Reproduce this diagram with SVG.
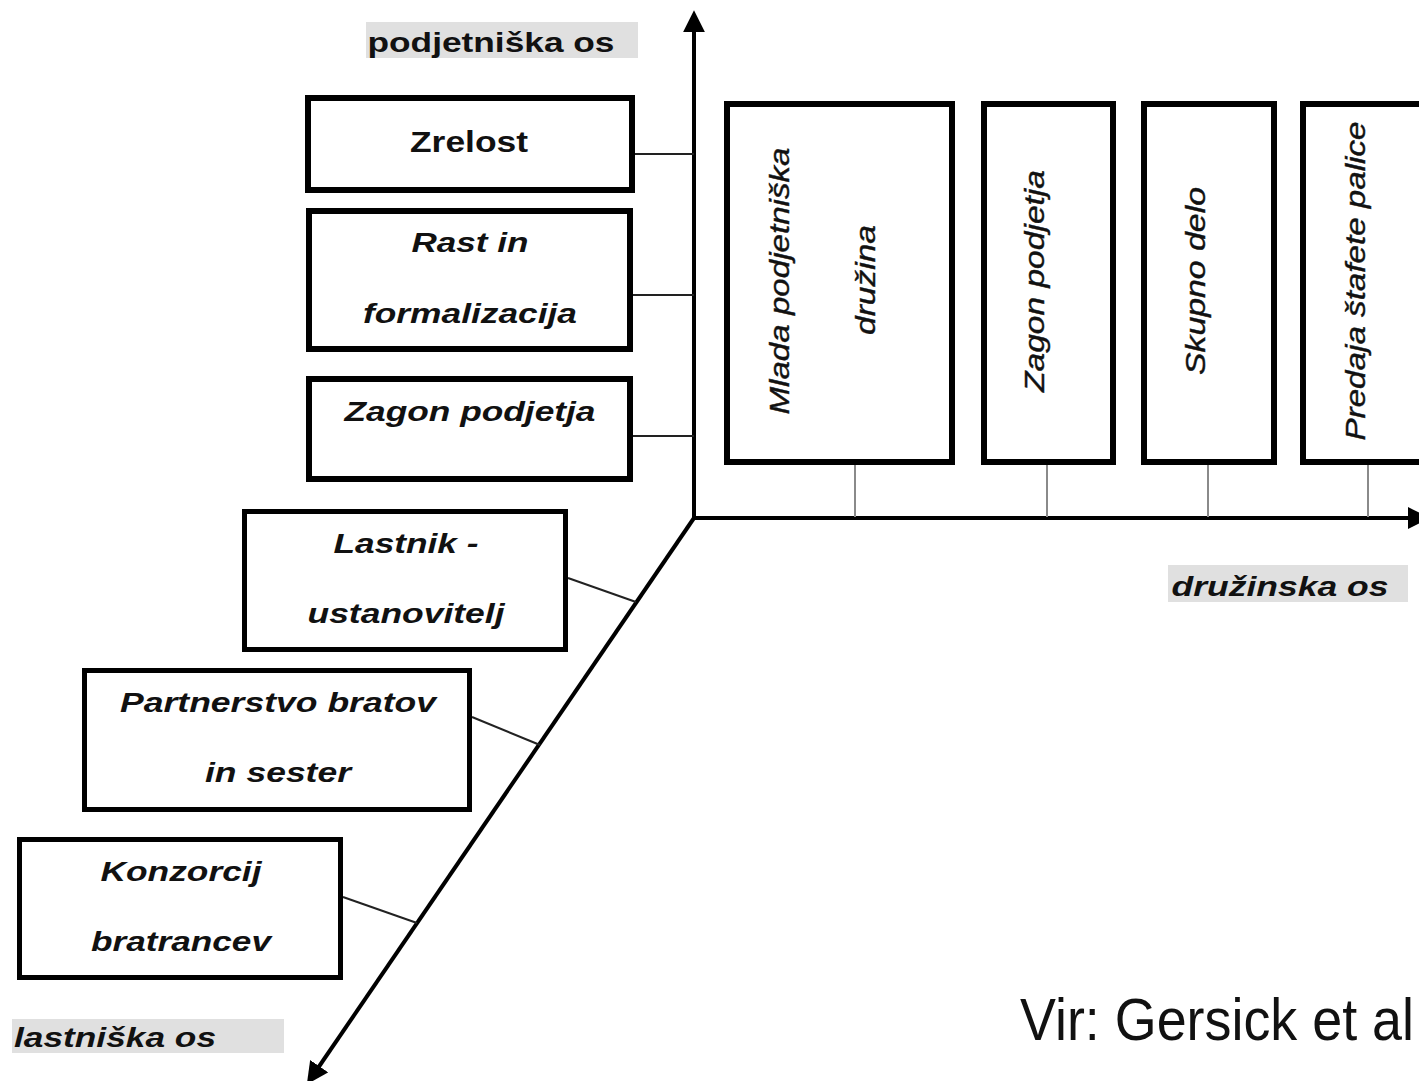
<svg xmlns="http://www.w3.org/2000/svg" width="1419" height="1081" viewBox="0 0 1419 1081">
<style>
.bg{fill:#ffffff}
.box{fill:#ffffff;stroke:#000000;stroke-width:6}
.box2{fill:#ffffff;stroke:#000000;stroke-width:5}
.axis{stroke:#000000;stroke-width:4;fill:none}
.link{stroke:#222222;stroke-width:2;fill:none}
.tick{stroke:#8a8a8a;stroke-width:2;fill:none}
.lblbg{fill:#e0e0e0}
.t{font-family:"Liberation Sans",Arial,sans-serif;font-weight:bold;font-style:italic;font-size:27px;fill:#111111;text-anchor:middle}
.up{font-style:normal}
.v{font-family:"Liberation Sans",Arial,sans-serif;font-style:italic;font-size:28px;fill:#111111;text-anchor:middle;stroke:#111111;stroke-width:0.4}
.src{font-family:"Liberation Sans",Arial,sans-serif;font-size:60px;fill:#111111}
</style>
<defs>
<marker id="arr" markerUnits="userSpaceOnUse" markerWidth="22" markerHeight="22" viewBox="0 0 20 20" refX="2" refY="10" orient="auto">
<path d="M0,0 L20,10 L0,20 z" fill="#000000"/>
</marker>
</defs>
<rect class="bg" x="0" y="0" width="1419" height="1081"/>

<g id="connectors">
<line class="axis" x1="694" y1="520" x2="694" y2="30" marker-end="url(#arr)"/>
<line class="axis" x1="692" y1="518" x2="1410" y2="518" marker-end="url(#arr)"/>
<line class="axis" x1="694" y1="518" x2="318" y2="1068" marker-end="url(#arr)"/>
<line class="link" x1="635" y1="154" x2="694" y2="154"/>
<line class="link" x1="633" y1="295" x2="694" y2="295"/>
<line class="link" x1="633" y1="436" x2="694" y2="436"/>
<line class="link" x1="568" y1="578" x2="636" y2="602"/>
<line class="link" x1="472" y1="717" x2="540" y2="745"/>
<line class="link" x1="343" y1="897" x2="417" y2="923"/>
<line class="tick" x1="855" y1="465" x2="855" y2="517"/>
<line class="tick" x1="1047" y1="465" x2="1047" y2="517"/>
<line class="tick" x1="1208" y1="465" x2="1208" y2="517"/>
<line class="tick" x1="1368" y1="465" x2="1368" y2="517"/>
</g>

<g id="label-podjetniska">
<rect class="lblbg" x="366" y="22" width="272" height="36"/>
<text class="t up" x="491" y="52" textLength="247" lengthAdjust="spacingAndGlyphs">podjetniška os</text>
</g>
<g id="label-druzinska">
<rect class="lblbg" x="1168" y="565" width="240" height="37"/>
<text class="t" x="1280" y="596" textLength="217" lengthAdjust="spacingAndGlyphs">družinska os</text>
</g>
<g id="label-lastniska">
<rect class="lblbg" x="12" y="1019" width="272" height="34"/>
<text class="t" x="115" y="1047" textLength="202" lengthAdjust="spacingAndGlyphs">lastniška os</text>
</g>

<g id="node-zrelost">
<rect class="box" x="308" y="98" width="324" height="92"/>
<text class="t up" x="469" y="152" style="font-size:29px" textLength="118" lengthAdjust="spacingAndGlyphs">Zrelost</text>
</g>
<g id="node-rast">
<rect class="box" x="309" y="211" width="321" height="138"/>
<text class="t" x="470" y="252" textLength="117" lengthAdjust="spacingAndGlyphs">Rast in</text>
<text class="t" x="470" y="323" textLength="214" lengthAdjust="spacingAndGlyphs">formalizacija</text>
</g>
<g id="node-zagon-left">
<rect class="box" x="309" y="379" width="321" height="100"/>
<text class="t" x="470" y="421" textLength="251" lengthAdjust="spacingAndGlyphs">Zagon podjetja</text>
</g>
<g id="node-lastnik">
<rect class="box2" x="244.5" y="511.5" width="321" height="138"/>
<text class="t" x="406" y="553" textLength="145" lengthAdjust="spacingAndGlyphs">Lastnik -</text>
<text class="t" x="406" y="623" textLength="197" lengthAdjust="spacingAndGlyphs">ustanovitelj</text>
</g>
<g id="node-partnerstvo">
<rect class="box2" x="84.5" y="670.5" width="385" height="139"/>
<text class="t" x="278" y="712" textLength="316" lengthAdjust="spacingAndGlyphs">Partnerstvo bratov</text>
<text class="t" x="278" y="782" textLength="146" lengthAdjust="spacingAndGlyphs">in sester</text>
</g>
<g id="node-konzorcij">
<rect class="box2" x="19.5" y="839.5" width="321" height="138"/>
<text class="t" x="181" y="881" textLength="161" lengthAdjust="spacingAndGlyphs">Konzorcij</text>
<text class="t" x="181" y="951" textLength="180" lengthAdjust="spacingAndGlyphs">bratrancev</text>
</g>

<g id="node-mlada">
<rect class="box" x="727" y="104" width="225" height="358"/>
<text class="v" transform="translate(789,281) rotate(-90)" textLength="267" lengthAdjust="spacingAndGlyphs">Mlada podjetniška</text>
<text class="v" transform="translate(875,280) rotate(-90)" textLength="110" lengthAdjust="spacingAndGlyphs">družina</text>
</g>
<g id="node-zagon-right">
<rect class="box" x="984" y="104" width="129" height="358"/>
<text class="v" transform="translate(1044,281) rotate(-90)" textLength="222" lengthAdjust="spacingAndGlyphs">Zagon podjetja</text>
</g>
<g id="node-skupno">
<rect class="box" x="1144" y="104" width="130" height="358"/>
<text class="v" transform="translate(1205,281) rotate(-90)" textLength="188" lengthAdjust="spacingAndGlyphs">Skupno delo</text>
</g>
<g id="node-predaja">
<rect class="box" x="1303" y="104" width="200" height="358"/>
<text class="v" transform="translate(1365,281) rotate(-90)" textLength="319" lengthAdjust="spacingAndGlyphs">Predaja štafete palice</text>
</g>

<g id="source">
<text class="src" x="1020" y="1040" textLength="394" lengthAdjust="spacingAndGlyphs">Vir: Gersick et al</text>
</g>
</svg>
